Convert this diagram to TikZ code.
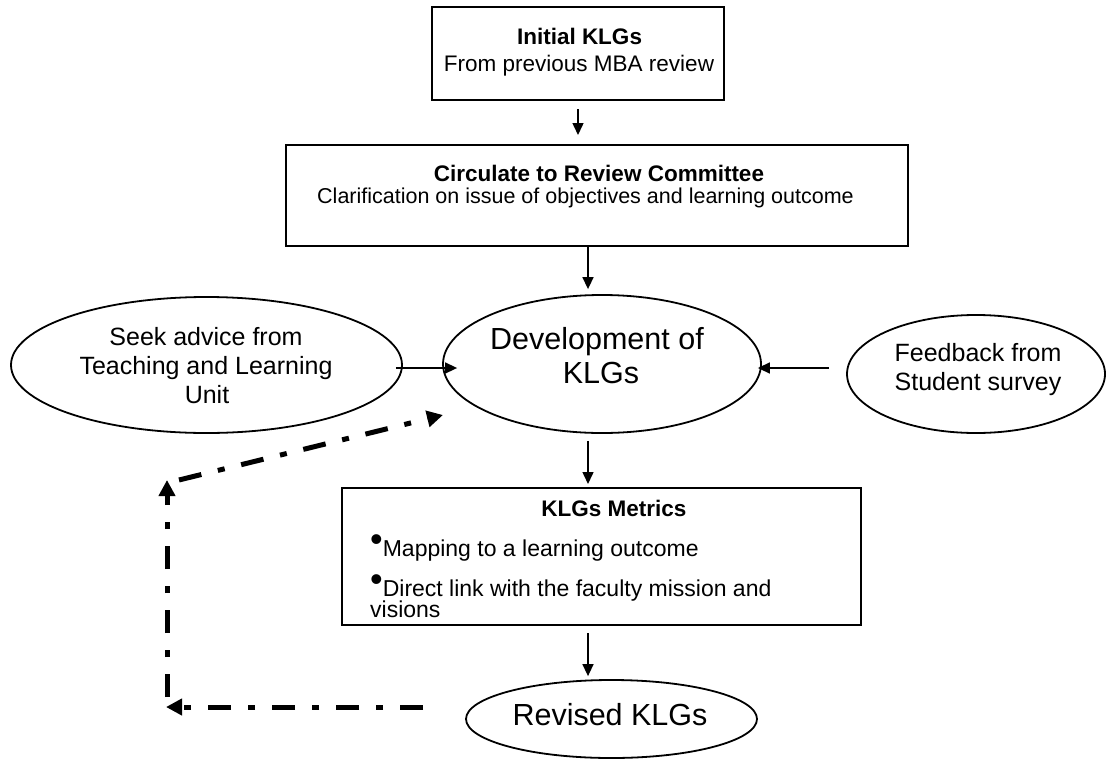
\documentclass[tikz,border=0pt]{standalone}
\usepackage{fontspec}
\setmainfont{Liberation Sans}
\usetikzlibrary{shapes.geometric,arrows.meta}
\newcommand{\bigbul}{\raisebox{5pt}{\fontsize{36}{36}\selectfont •}}
\begin{document}
\begin{tikzpicture}[x=1pt,y=-1pt,
  box/.style={draw, line width=2pt, rectangle, inner sep=0pt},
  oval/.style={draw, line width=1.8pt, ellipse, inner sep=0pt},
  ctxt/.style={inner sep=0pt, anchor=base},
  ltxt/.style={inner sep=0pt, anchor=base west},
  boxfont/.style={font=\fontsize{22.5}{26}\selectfont},
  boldfont/.style={font=\bfseries\fontsize{22.5}{26}\selectfont},
  ovalfont/.style={font=\fontsize{25}{29}\selectfont},
  bigfont/.style={font=\fontsize{30.5}{35}\selectfont},
  arr/.style={line width=1.5pt, -{Triangle[length=12pt,width=11pt]}},
  looparr/.style={line width=5pt, dash pattern=on 23pt off 17pt on 7pt off 17pt, -{Triangle[length=16pt,width=16pt]}}
]
\fill[white] (0,0) rectangle (1107,760);
\useasboundingbox (0,0) rectangle (1107,760);

% Initial KLGs
\node[box, minimum width=292pt, minimum height=93pt] (init) at (578,53.5) {};
\node[ctxt, boldfont] (initA) at (579.5,44.5) {Initial KLGs};
\node[ctxt, boxfont] (initB) at (579,71) {From previous MBA review};

% Circulate
\node[box, minimum width=622pt, minimum height=101pt] (circ) at (597,195.5) {};
\node[ctxt, boldfont] (circA) at (599,181) {Circulate to Review Committee};
\node[ltxt, font=\fontsize{21.5}{26}\selectfont] (circB) at (317,203) {Clarification on issue of objectives and learning outcome};

% Development
\node[oval, minimum width=318pt, minimum height=138pt] (dev) at (602,364) {};
\node[ctxt, bigfont] (devA) at (597,349) {Development of};
\node[ctxt, bigfont] (devB) at (601,383) {KLGs};

% Seek advice
\node[oval, minimum width=391pt, minimum height=136pt] (seek) at (206.5,365) {};
\node[ctxt, ovalfont] (seekA) at (206,345) {Seek advice from};
\node[ctxt, ovalfont] (seekB) at (206,374.5) {Teaching and Learning};
\node[ctxt, ovalfont] (seekC) at (207,403.5) {Unit};

% Feedback
\node[oval, minimum width=258pt, minimum height=118pt] (fb) at (976,374) {};
\node[ctxt, ovalfont] (fbA) at (978,361.5) {Feedback from};
\node[ctxt, ovalfont] (fbB) at (978,390) {Student survey};

% Metrics
\node[box, minimum width=519pt, minimum height=137pt] (met) at (601.5,556.5) {};
\node[ctxt, boldfont] (metA) at (614,516) {KLGs Metrics};
\node[ltxt, font=\fontsize{23}{26}\selectfont] (metB) at (370,556) {\bigbul Mapping to a learning outcome};
\node[ltxt, font=\fontsize{23}{26}\selectfont] (metC) at (370,596) {\bigbul Direct link with the faculty mission and};
\node[ltxt, font=\fontsize{23}{26}\selectfont] (metD) at (370,617) {visions};

% Revised
\node[oval, minimum width=291pt, minimum height=78pt] (rev) at (611.5,719) {};
\node[ctxt, bigfont] (revA) at (610,725) {Revised KLGs};

% solid connectors
\coordinate (ax) at (588,0);
\coordinate (ay) at (0,368);
\draw[arr, shorten <=8pt, shorten >=9pt] (init.south) -- (init.south |- circ.north);
\draw[arr, shorten >=5pt] (circ.south -| ax) -- (dev.north -| ax);
\draw[arr, shorten <=-7pt, shorten >=-15pt] (seek.east |- ay) -- (dev.west |- ay);
\draw[arr, shorten <=17pt, shorten >=-4pt] (fb.west |- ay) -- (dev.east |- ay);
\draw[arr, shorten <=7pt, shorten >=3pt] (dev.south -| ax) -- (met.north -| ax);
\draw[arr, shorten <=7pt, shorten >=3pt] (met.south -| ax) -- (rev.north -| ax);

% dash-dot feedback loop
\coordinate (r0) at (423,707);
\coordinate (c1) at (166,707);
\coordinate (c1b) at (167,697);
\coordinate (c2) at (167,480);
\coordinate (c2b) at (179,480);
\coordinate (d0) at (443,415);
\draw[looparr] (r0) -- (c1);
\draw[looparr] (c1b) -- (c2);
\draw[looparr] (c2b) -- (d0);
\end{tikzpicture}
\end{document}
